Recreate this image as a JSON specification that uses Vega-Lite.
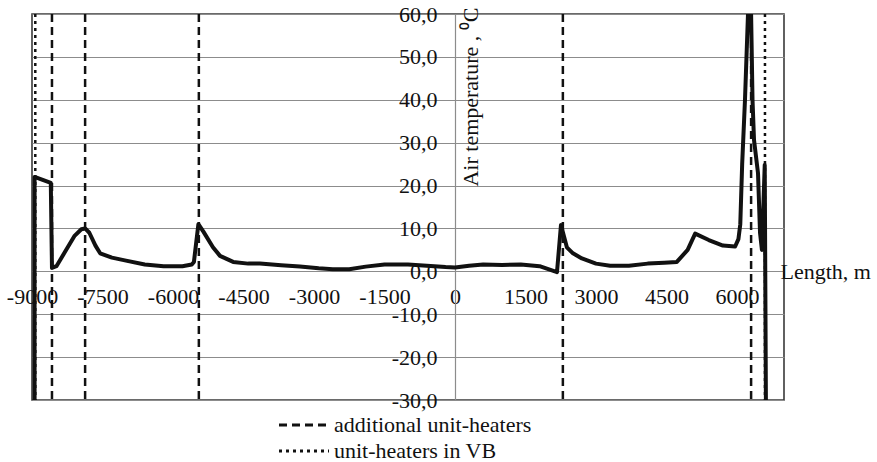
{
  "$schema": "https://vega.github.io/schema/vega-lite/v6.json",
  "width": 752,
  "height": 386,
  "autosize": {"type": "none"},
  "padding": {"left": 32, "top": 14, "right": 93, "bottom": 62},
  "background": "white",
  "config": {
    "view": {"stroke": "#3a3a3a", "strokeWidth": 1.6},
    "font": "Liberation Serif, Times New Roman, serif"
  },
  "datasets": {
    "curve": [
      {"length": -8945, "temp": -30}, {"length": -8945, "temp": 22}, {"length": -8600, "temp": 20.6},
      {"length": -8575, "temp": 0.8}, {"length": -8480, "temp": 1.2}, {"length": -8300, "temp": 4.5},
      {"length": -8100, "temp": 8.2}, {"length": -7950, "temp": 9.8}, {"length": -7870, "temp": 10},
      {"length": -7780, "temp": 9}, {"length": -7650, "temp": 6}, {"length": -7550, "temp": 4.2},
      {"length": -7300, "temp": 3.2}, {"length": -7000, "temp": 2.5}, {"length": -6600, "temp": 1.6},
      {"length": -6200, "temp": 1.2}, {"length": -5800, "temp": 1.2}, {"length": -5600, "temp": 1.6},
      {"length": -5555, "temp": 2.2}, {"length": -5460, "temp": 11}, {"length": -5350, "temp": 9.2},
      {"length": -5150, "temp": 5.6}, {"length": -5000, "temp": 3.6}, {"length": -4720, "temp": 2.2},
      {"length": -4400, "temp": 1.8}, {"length": -4150, "temp": 1.8}, {"length": -3700, "temp": 1.4},
      {"length": -3300, "temp": 1.1}, {"length": -2900, "temp": 0.7}, {"length": -2600, "temp": 0.5},
      {"length": -2250, "temp": 0.5}, {"length": -1900, "temp": 1.1}, {"length": -1500, "temp": 1.6},
      {"length": -1000, "temp": 1.6}, {"length": -600, "temp": 1.3}, {"length": -200, "temp": 1.0},
      {"length": 0, "temp": 0.9}, {"length": 300, "temp": 1.3}, {"length": 600, "temp": 1.6},
      {"length": 1000, "temp": 1.5}, {"length": 1400, "temp": 1.6}, {"length": 1800, "temp": 1.2},
      {"length": 2170, "temp": -0.2}, {"length": 2255, "temp": 10.8}, {"length": 2380, "temp": 5.6},
      {"length": 2510, "temp": 4.2}, {"length": 2700, "temp": 3.0}, {"length": 3000, "temp": 1.8},
      {"length": 3300, "temp": 1.3}, {"length": 3700, "temp": 1.3}, {"length": 4100, "temp": 1.8},
      {"length": 4450, "temp": 2.0}, {"length": 4720, "temp": 2.2}, {"length": 4950, "temp": 5.0},
      {"length": 5110, "temp": 8.8}, {"length": 5400, "temp": 7.3}, {"length": 5700, "temp": 6.0},
      {"length": 5960, "temp": 5.8}, {"length": 6030, "temp": 7.5}, {"length": 6070, "temp": 11},
      {"length": 6110, "temp": 25}, {"length": 6170, "temp": 40}, {"length": 6234, "temp": 60},
      {"length": 6300, "temp": 60}, {"length": 6330, "temp": 40}, {"length": 6362, "temp": 30.6},
      {"length": 6447, "temp": 22.9}, {"length": 6490, "temp": 9}, {"length": 6530, "temp": 5},
      {"length": 6590, "temp": 24.8}, {"length": 6615, "temp": -30}
    ],
    "heaters": [
      {"length": -8575, "type": "additional unit-heaters"},
      {"length": -7870, "type": "additional unit-heaters"},
      {"length": -5450, "type": "additional unit-heaters"},
      {"length": 2295, "type": "additional unit-heaters"},
      {"length": 6300, "type": "additional unit-heaters"},
      {"length": -8930, "type": "unit-heaters in VB"},
      {"length": 6595, "type": "unit-heaters in VB"}
    ]
  },
  "encoding": {
    "x": {
      "field": "length",
      "type": "quantitative",
      "scale": {"domain": [-9000, 7000], "nice": false, "zero": false},
      "axis": {
        "values": [-9000, -7500, -6000, -4500, -3000, -1500, 0, 1500, 3000, 4500, 6000],
        "labelExpr": "'' + datum.value",
        "grid": false,
        "domain": false,
        "ticks": false,
        "tickSize": 0,
        "offset": -128.7,
        "labelPadding": 15,
        "labelFlush": false,
        "labelOverlap": false,
        "labelFont": "Liberation Serif, Times New Roman, serif",
        "labelFontSize": 22,
        "labelColor": "#111",
        "title": "Length, m",
        "titleFont": "Liberation Serif, Times New Roman, serif",
        "titleFontSize": 22,
        "titleFontWeight": "normal",
        "titleColor": "#111",
        "titleX": 748,
        "titleY": 0,
        "titleAlign": "left",
        "titleBaseline": "middle",
        "titleAngle": 0
      }
    }
  },
  "layer": [
    {
      "data": {"name": "curve"},
      "mark": {"type": "line", "color": "#111", "strokeWidth": 4, "clip": true, "strokeJoin": "round"},
      "encoding": {
        "y": {
          "field": "temp",
          "type": "quantitative",
          "scale": {"domain": [-30, 60], "nice": false, "zero": false},
          "axis": {
            "values": [-30, -20, -10, 0, 10, 20, 30, 40, 50, 60],
            "labelExpr": "datum.value + ',0'",
            "grid": true,
            "gridColor": "#8c8c8c",
            "gridWidth": 1.2,
            "domain": true,
            "domainColor": "#8c8c8c",
            "domainWidth": 1.2,
            "ticks": false,
            "tickSize": 0,
            "offset": -423,
            "labelPadding": 18,
            "labelAlign": "right",
            "labelBaseline": "middle",
            "labelFlush": false,
            "labelOverlap": false,
            "labelFont": "Liberation Serif, Times New Roman, serif",
            "labelFontSize": 22,
            "labelColor": "#111",
            "title": "Air temperature , ⁰C",
            "titleFont": "Liberation Serif, Times New Roman, serif",
            "titleFontSize": 22,
            "titleFontWeight": "normal",
            "titleColor": "#111",
            "titleAngle": 270,
            "titleAlign": "right",
            "titleBaseline": "top",
            "titleX": 5,
            "titleY": -7
          }
        }
      }
    },
    {
      "data": {"name": "heaters"},
      "mark": {"type": "rule", "color": "#111", "strokeWidth": 2.5},
      "encoding": {
        "strokeDash": {
          "field": "type",
          "type": "nominal",
          "scale": {"domain": ["additional unit-heaters", "unit-heaters in VB"], "range": [[8, 5], [3, 4]]},
          "legend": {
            "orient": "none",
            "legendX": 258,
            "legendY": 397,
            "title": null,
            "symbolType": "M-2,0H2",
            "symbolSize": 625,
            "symbolStrokeWidth": 3,
            "symbolStrokeColor": "#111",
            "labelFont": "Liberation Serif, Times New Roman, serif",
            "labelFontSize": 22,
            "labelColor": "#111",
            "labelOffset": 16,
            "labelLimit": 500,
            "rowPadding": 1
          }
        }
      }
    }
  ]
}
